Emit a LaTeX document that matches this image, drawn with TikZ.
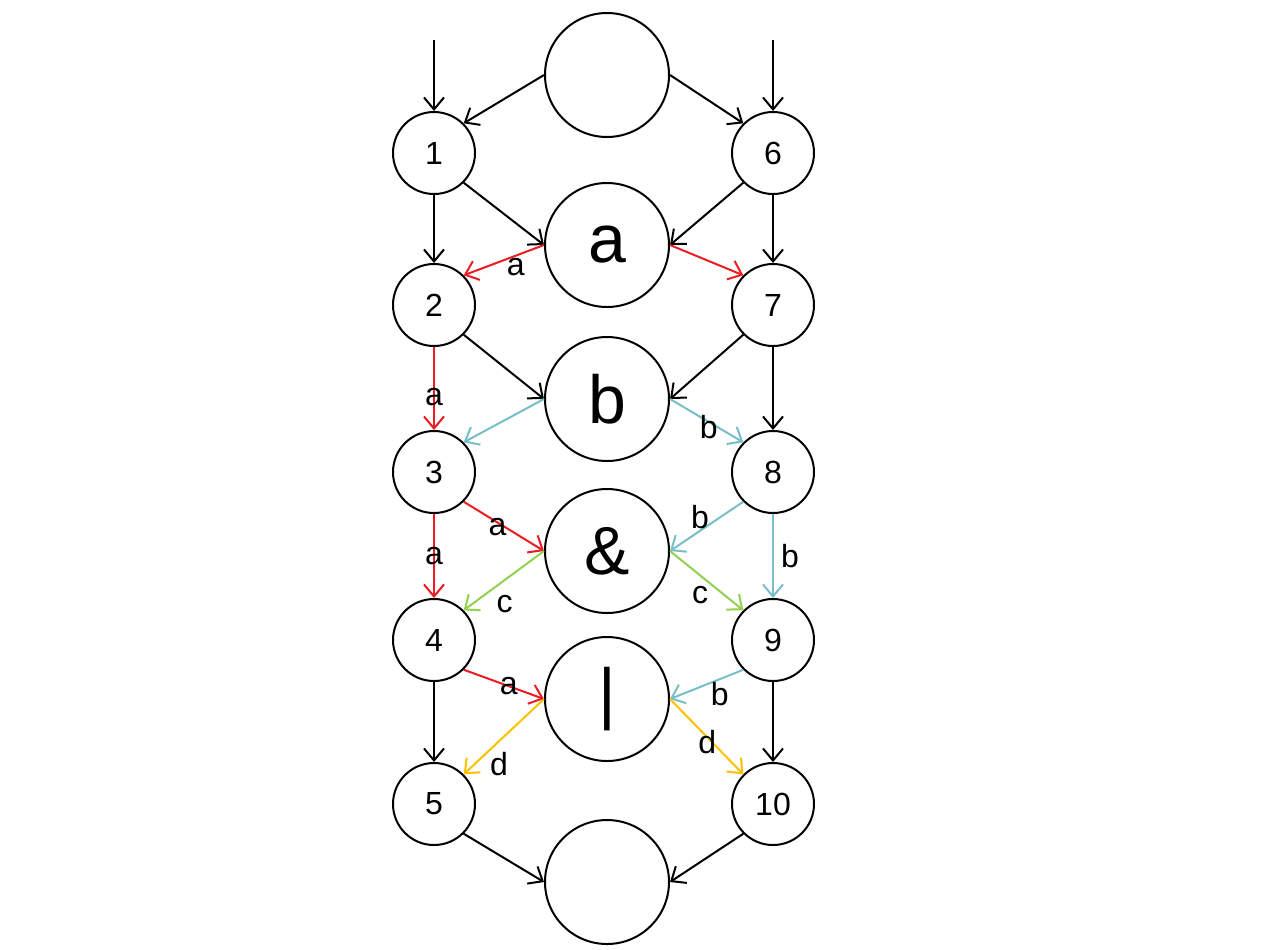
\documentclass[tikz,border=0pt]{standalone}
\usepackage{fontspec}
\setmainfont{Liberation Sans}
\usepackage{xcolor}
\usetikzlibrary{arrows.meta}
\usetikzlibrary{positioning}

\definecolor{ared}{RGB}{235,28,36}
\definecolor{bteal}{RGB}{120,190,200}
\definecolor{cgreen}{RGB}{146,208,80}
\definecolor{dgold}{RGB}{255,192,0}

\tikzset{
	num/.style={circle, draw, line width=1pt, minimum size=41pt, inner sep=0pt, font=\fontsize{16}{19}\selectfont},
	op/.style={circle, draw, line width=1pt, minimum size=62pt, inner sep=0pt, font=\fontsize{34}{38}\selectfont},
	trans/.style={-{Straight Barb[length=6pt,width=10pt]}, line width=1pt},
	lbl/.style={font=\fontsize{16}{19}\selectfont, inner sep=1pt, text=black},
}

\begin{document}
\begin{tikzpicture}[on grid]
		
		\useasboundingbox (-217pt,76.5pt) rectangle (416.5pt,-398pt);
		
		\node[num](s1){1};
		\node[num, below=76pt of s1](s2){2};
		\node[num, below=83.5pt of s2](s3){3};
		\node[num, below=84pt of s3](s4){4};
		\node[num, below=82pt of s4](s5){5};
		
		\node[num, right=169.5pt of s1](s6){6};
		\node[num, right=169.5pt of s2](s7){7};
		\node[num, right=169.5pt of s3](s8){8};
		\node[num, right=169.5pt of s4](s9){9};
		\node[num, right=169.5pt of s5](s10){10};
		
		\node[op, above right=39pt and 86.5pt of s1](start){};
		\node[op, below right=46pt and 86.5pt of s1](opa){a};
		\node[op, below right=47pt and 86.5pt of s2](opb){b};
		\node[op, below right=39.5pt and 86.5pt of s3](opand){\&};
		\node[op, below right=29.5pt and 86.5pt of s4](opor){|};
		\node[op, below right=39pt and 86.5pt of s5](stop){};
		
		\coordinate[above=56.5pt of s1](in1);
		\coordinate[above=56.5pt of s6](in6);
		
		% black
		\draw[trans] (in1) -- (s1);
		\draw[trans] (in6) -- (s6);
		\draw[trans] (start.west) -- (s1.north east);
		\draw[trans] (start.east) -- (s6.north west);
		\draw[trans] (s1) -- (s2);
		\draw[trans] (s6) -- (s7);
		\draw[trans] (s1.south east) -- (opa.west);
		\draw[trans] (s6.south west) -- (opa.east);
		\draw[trans] (s2.south east) -- (opb.west);
		\draw[trans] (s7.south west) -- (opb.east);
		\draw[trans] (s7) -- (s8);
		\draw[trans] (s4) -- (s5);
		\draw[trans] (s9) -- (s10);
		\draw[trans] (s5.south east) -- (stop.west);
		\draw[trans] (s10.south west) -- (stop.east);
		
		% a
		\draw[trans, ared] (opa.west) -- node[lbl, pos=.35, below]{a} (s2.north east);
		\draw[trans, ared] (opa.east) -- (s7.north west);
		\draw[trans, ared] (s2) -- node[lbl, pos=.6]{a} (s3);
		\draw[trans, ared] (s3) -- node[lbl, midway]{a} (s4);
		\draw[trans, ared] (s3.south east) -- node[lbl, pos=.42, yshift=-2.5pt]{a} (opand.west);
		\draw[trans, ared] (s4.south east) -- node[lbl, pos=.56]{a} (opor.west);
		
		% b
		\draw[trans, bteal] (opb.west) -- (s3.north east);
		\draw[trans, bteal] (opb.east) -- node[lbl, pos=.53, yshift=-2.5pt]{b} (s8.north west);
		\draw[trans, bteal] (s8.south west) -- node[lbl, pos=.59, yshift=7pt]{b} (opand.east);
		\draw[trans, bteal] (s8) -- node[lbl, midway, right=2.5pt]{b} (s9);
		\draw[trans, bteal] (s9.south west) -- node[lbl, pos=.32, below]{b} (opor.east);
		
		% c
		\draw[trans, cgreen] (opand.west) -- node[lbl, pos=.49, below=6pt]{c} (s4.north east);
		\draw[trans, cgreen] (opand.east) -- node[lbl, pos=.41, below=4pt]{c} (s9.north west);
		
		% d
		\draw[trans, dgold] (opor.west) -- node[lbl, pos=.56, below=4pt]{d} (s5.north east);
		\draw[trans, dgold] (opor.east) -- node[lbl, pos=.51, yshift=-2.5pt]{d} (s10.north west);
		
	\end{tikzpicture}
\end{document}
